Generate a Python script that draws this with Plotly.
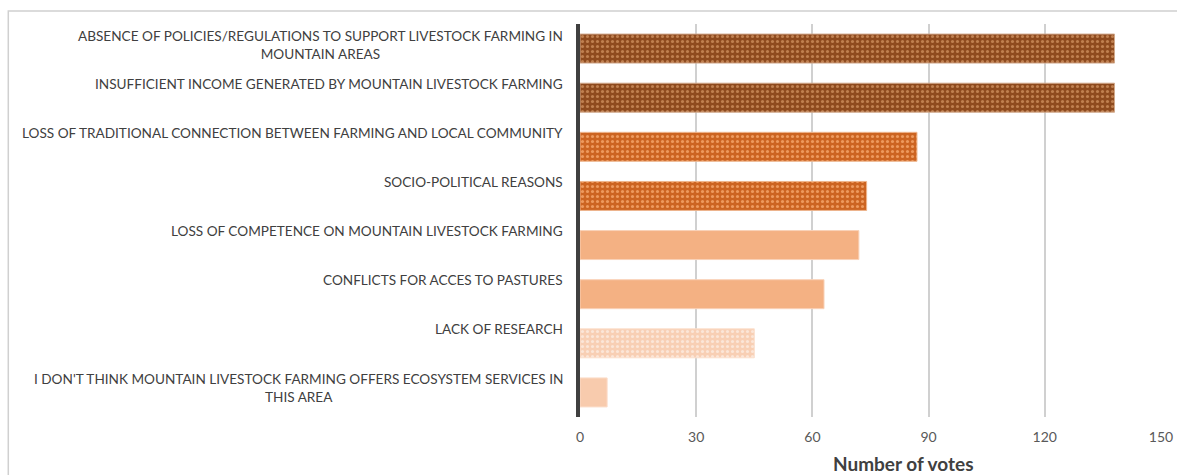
import plotly.graph_objects as go

categories = [
    "ABSENCE OF POLICIES/REGULATIONS TO SUPPORT LIVESTOCK FARMING IN<br>MOUNTAIN AREAS",
    "INSUFFICIENT INCOME GENERATED BY MOUNTAIN LIVESTOCK FARMING",
    "LOSS OF TRADITIONAL CONNECTION BETWEEN FARMING AND LOCAL COMMUNITY",
    "SOCIO-POLITICAL REASONS",
    "LOSS OF COMPETENCE ON MOUNTAIN LIVESTOCK FARMING",
    "CONFLICTS FOR ACCES TO PASTURES",
    "LACK OF RESEARCH",
    "I DON'T THINK MOUNTAIN LIVESTOCK FARMING OFFERS ECOSYSTEM SERVICES IN<br>THIS AREA",
]
votes = [138, 138, 87, 74, 72, 63, 45, 7]
x_ticks = [0, 30, 60, 90, 120, 150]
x_title = "Number of votes"

base_colors = ["#8E4A1E", "#8E4A1E", "#CC6421", "#CC6421", "#F4B183", "#F4B183", "#F8CFB4", "#F8CBAD"]
fg_colors = ["#C08050", "#C08050", "#EE9A5E", "#EE9A5E", "#F4B183", "#F4B183", "#FCE6D8", "#F8CBAD"]
shapes_pat = [".", ".", ".", ".", "", "", ".", ""]
line_colors = ["#D2A98C", "#D2A98C", "#EDB48C", "#EDB48C", "#F9D2B8", "#F9D2B8", "#FBE0CE", "#FBDCC8"]

FONT = "Lato, Calibri, sans-serif"

fig = go.Figure()
for i in range(len(categories)):
    fig.add_trace(go.Bar(
        x=[votes[i]],
        y=[i],
        orientation="h",
        width=0.59,
        marker=dict(
            color=base_colors[i],
            line=dict(color=line_colors[i], width=1),
            pattern=dict(shape=shapes_pat[i], fgcolor=fg_colors[i], bgcolor=base_colors[i],
                         size=5, solidity=0.3, fillmode="replace"),
        ),
        hoverinfo="x",
    ))

for i, c in enumerate(categories):
    two_line = "<br>" in c
    fig.add_annotation(
        x=0, y=i, xref="x", yref="y", text=c, showarrow=False,
        xanchor="right", yanchor="middle", align="center", xshift=-15,
        yshift=4 if two_line else 14,
        font=dict(family=FONT, size=13.6, color="#404040"),
    )

# axis title (placed like the original, slightly right of centre)
fig.add_annotation(
    x=0.556, y=0, xref="paper", yref="paper", text="<b>" + x_title + "</b>",
    showarrow=False, xanchor="center", yanchor="middle", yshift=-46,
    font=dict(family=FONT, size=19, color="#404040"),
)

# outer chart border
fig.add_shape(type="rect", xref="paper", yref="paper",
              x0=-0.984, x1=1.1, y0=-0.3, y1=1.033,
              line=dict(color="#D0D0D0", width=1.5), fillcolor="rgba(0,0,0,0)", layer="below")

fig.update_layout(
    width=1177, height=475,
    margin=dict(l=580, r=16, t=24, b=58, autoexpand=False),
    paper_bgcolor="white", plot_bgcolor="white",
    showlegend=False,
    barmode="overlay",
    xaxis=dict(
        range=[0, 150], tickvals=x_ticks, ticktext=[str(v) for v in x_ticks],
        showgrid=True, gridcolor="#D0D0D0", gridwidth=2,
        ticks="", ticklabelstandoff=10, ticklabeloverflow="allow",
        tickfont=dict(family=FONT, size=14, color="#595959"),
        zeroline=False, showline=False, automargin=False,
        fixedrange=True,
    ),
    yaxis=dict(
        range=[len(categories) - 0.5, -0.5],
        showticklabels=False, showgrid=False, zeroline=False,
        showline=True, linecolor="#404040", linewidth=4, automargin=False,
        fixedrange=True,
    ),
)

fig.write_html("out.html", config={"displayModeBar": False},
               post_script="document.body.style.margin='0';")
